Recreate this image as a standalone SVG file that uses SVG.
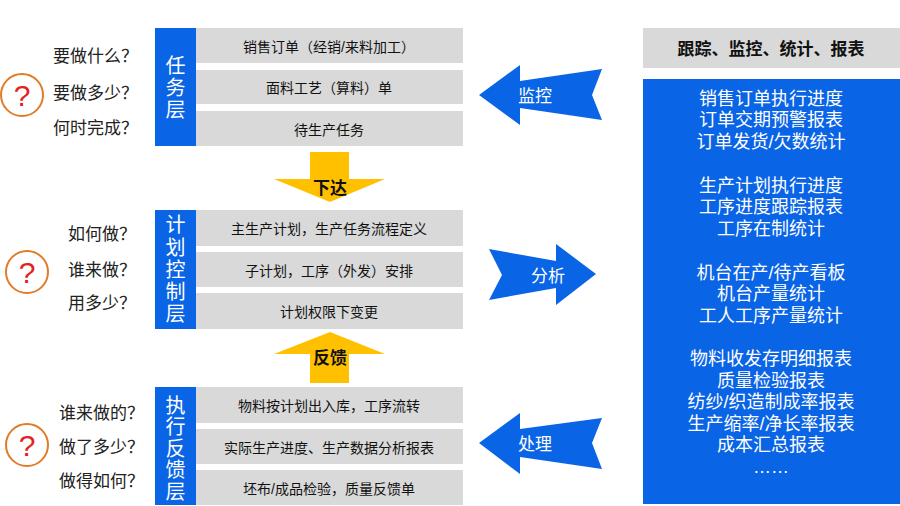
<svg xmlns="http://www.w3.org/2000/svg" width="900" height="506" viewBox="0 0 900 506">
<style>
text,tspan{font-family:"Liberation Sans","Noto Sans CJK SC",sans-serif;dominant-baseline:central}
.bar{fill:#0A64E6}
.row{fill:#D9D9D9}
.rt{font-size:14px;fill:#111;text-anchor:middle}
.bt{font-family:"Noto Sans CJK SC",sans-serif;font-size:20px;fill:#fff;text-anchor:middle;writing-mode:vertical-rl;text-orientation:upright}
.q{font-size:17px;fill:#222}
.qc{fill:none;stroke:#E07B28;stroke-width:2}
.qm{font-size:30px;fill:#E3211E;text-anchor:middle;font-family:"Liberation Sans",sans-serif}
.ya{fill:#FFC000}
.ba{fill:#0A64E6}
.at{font-size:17px;fill:#fff;text-anchor:middle}
.yt{font-size:17px;fill:#111;text-anchor:middle;font-weight:bold}
.pt{font-size:18px;fill:#fff;text-anchor:middle}
</style>
<rect width="900" height="506" fill="#fff"/>

<g id="layer-task">
<rect class="bar" x="155" y="28" width="41" height="118"/>
<text class="bt" x="175.5" y="88" style="letter-spacing:2px">任务层</text>
<rect class="row" x="196" y="28" width="267" height="35"/>
<rect class="row" x="196" y="70" width="267" height="34"/>
<rect class="row" x="196" y="111" width="267" height="35"/>
<text class="rt" x="329" y="46.5">销售订单（经销/来料加工）</text>
<text class="rt" x="329" y="88">面料工艺（算料）单</text>
<text class="rt" x="329" y="129.5">待生产任务</text>
</g>
<g id="q-task">
<circle class="qc" cx="22" cy="95" r="21"/>
<text class="qm" x="22" y="95">?</text>
<text class="q" x="53" y="56">要做什么？</text>
<text class="q" x="53" y="93">要做多少？</text>
<text class="q" x="53" y="128">何时完成？</text>
</g>

<g id="layer-plan">
<rect class="bar" x="155" y="210" width="41" height="119"/>
<text class="bt" x="175.5" y="270.5" style="letter-spacing:2.25px">计划控制层</text>
<rect class="row" x="196" y="210" width="267" height="36"/>
<rect class="row" x="196" y="252" width="267" height="35"/>
<rect class="row" x="196" y="293" width="267" height="36"/>
<text class="rt" x="329" y="229">主生产计划，生产任务流程定义</text>
<text class="rt" x="329" y="270.5">子计划，工序（外发）安排</text>
<text class="rt" x="329" y="312">计划权限下变更</text>
</g>
<g id="q-plan">
<circle class="qc" cx="27" cy="272" r="21"/>
<text class="qm" x="27" y="272">?</text>
<text class="q" x="68" y="234">如何做？</text>
<text class="q" x="68" y="270">谁来做？</text>
<text class="q" x="68" y="303">用多少？</text>
</g>

<g id="layer-exec">
<rect class="bar" x="155" y="387" width="41" height="118"/>
<text class="bt" x="175.5" y="449" style="letter-spacing:1.5px">执行反馈层</text>
<rect class="row" x="196" y="387" width="267" height="36"/>
<rect class="row" x="196" y="429" width="267" height="35"/>
<rect class="row" x="196" y="470" width="267" height="35"/>
<text class="rt" x="329" y="406">物料按计划出入库，工序流转</text>
<text class="rt" x="329" y="447.5">实际生产进度、生产数据分析报表</text>
<text class="rt" x="329" y="488.5">坯布/成品检验，质量反馈单</text>
</g>
<g id="q-exec">
<circle class="qc" cx="27" cy="445" r="21"/>
<text class="qm" x="27" y="445">?</text>
<text class="q" x="59" y="413">谁来做的？</text>
<text class="q" x="59" y="447">做了多少？</text>
<text class="q" x="59" y="481">做得如何？</text>
</g>

<g id="reports">
<rect fill="#D9D9D9" x="643" y="28" width="257" height="40"/>
<text x="771" y="49" style="font-size:17px;fill:#111;text-anchor:middle;font-weight:bold">跟踪、监控、统计、报表</text>
<rect class="bar" x="643" y="79" width="257" height="425"/>
<text class="pt" x="771" y="99">销售订单执行进度</text>
<text class="pt" x="771" y="120">订单交期预警报表</text>
<text class="pt" x="771" y="141.5">订单发货/欠数统计</text>
<text class="pt" x="771" y="185.5">生产计划执行进度</text>
<text class="pt" x="771" y="207">工序进度跟踪报表</text>
<text class="pt" x="771" y="228.5">工序在制统计</text>
<text class="pt" x="771" y="272.5">机台在产/待产看板</text>
<text class="pt" x="771" y="294">机台产量统计</text>
<text class="pt" x="771" y="315.5">工人工序产量统计</text>
<text class="pt" x="771" y="359">物料收发存明细报表</text>
<text class="pt" x="771" y="380.5">质量检验报表</text>
<text class="pt" x="771" y="402">纺纱/织造制成率报表</text>
<text class="pt" x="771" y="423.5">生产缩率/净长率报表</text>
<text class="pt" x="771" y="445">成本汇总报表</text>
<text class="pt" x="771" y="466.5">……</text>
</g>

<g id="connectors">
<polygon class="ya" points="310,152 349,152 349,179 385,179 330,202 274,179 310,179"/>
<text class="yt" x="330" y="188">下达</text>
<polygon class="ya" points="330,332 385,354 349,354 349,383 310,383 310,354 274,354"/>
<text class="yt" x="330" y="358">反馈</text>
<polygon class="ba" points="479,95 520,65 520,81 602,69 592,95 602,120 520,108 520,125"/>
<text class="at" x="535" y="96">监控</text>
<polygon class="ba" points="596,274 556,244 556,261 489,249 502,275 489,300 556,288 556,305"/>
<text class="at" x="548" y="276">分析</text>
<polygon class="ba" points="479,443 520,413 520,429 602,418 592,443 602,469 520,457 520,474"/>
<text class="at" x="535" y="444">处理</text>
</g>
</svg>
